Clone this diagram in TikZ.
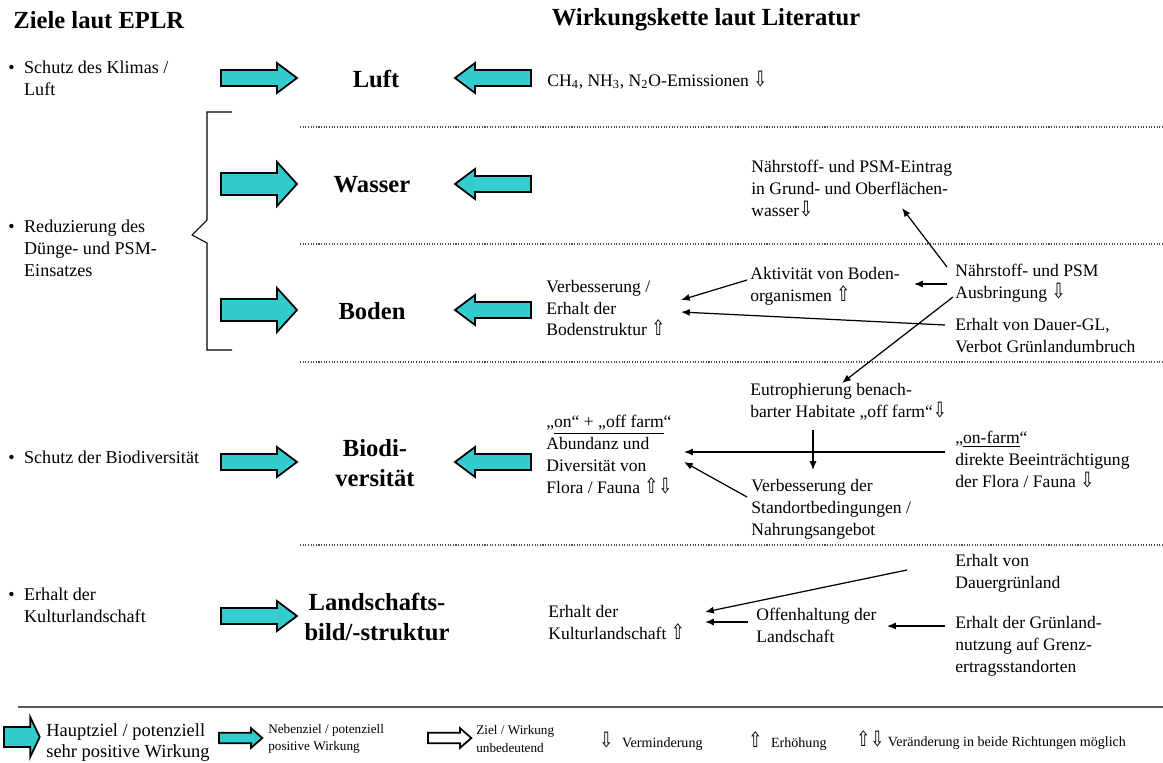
\documentclass[tikz,border=0pt]{standalone}
\usepackage{fontspec}
\setmainfont{Liberation Serif}
\newfontfamily\pfeilfont{DejaVu Sans}
\usepackage{xcolor,graphicx}
\definecolor{tuerkis}{HTML}{33CCCC}
\usetikzlibrary{arrows.meta}
\newcommand{\runter}{{\pfeilfont\scalebox{0.95}[1.2]{⇩}}}
\newcommand{\hoch}{{\pfeilfont\scalebox{0.95}[1.2]{⇧}}}

\begin{document}
\begin{tikzpicture}[
		x=0.02cm, y=-0.02cm,
		kopf/.style={font=\fontsize{14}{17}\selectfont\bfseries, inner sep=0pt},
		medium/.style={font=\fontsize{14}{17}\selectfont\bfseries, align=center, inner sep=0pt},
		ziel/.style={font=\fontsize{10.3}{12.5}\selectfont, align=left, anchor=west, inner sep=0pt},
		txt/.style={font=\fontsize{10}{12.5}\selectfont, align=left, anchor=west, inner sep=0pt},
		legende/.style={font=\fontsize{7.5}{10}\selectfont, align=left, anchor=west, inner sep=0pt},
		trenner/.style={dash pattern=on 0.6pt off 0.9pt, gray!60!black, line width=0.6pt},
		wirkung/.style={-{Latex[length=5pt,width=4pt]}, line width=0.7pt},
		pfeilrand/.style={draw=black, line width=1pt, line join=miter},
		pics/hauptpfeil/.style={code={
			\draw[pfeilrand, fill=#1] (0,-11) -- (56,-11) -- (56,-22) -- (76,0) -- (56,22) -- (56,11) -- (0,11) -- cycle;}},
		pics/hauptpfeil/.default=tuerkis,
		pics/nebenpfeil/.style={code={
			\draw[pfeilrand, fill=#1] (0,-8) -- (56,-8) -- (56,-15) -- (76,0) -- (56,15) -- (56,8) -- (0,8) -- cycle;}},
		pics/nebenpfeil/.default=tuerkis
	]
		\useasboundingbox (0,0) rectangle (1163,762);

		% Kopfzeile
		\node[kopf, anchor=west] (kopfziele) at (13,20) {Ziele laut EPLR};
		\node[kopf] (kopfkette) at (706,20) {Wirkungskette laut Literatur};

		% Ziele links
		\node[ziel] (zklima) at (8,78) {\makebox[9pt][l]{\textbullet}Schutz des Klimas /\\\hspace*{9pt}Luft};
		\node[ziel] (zduenge) at (8,248) {\makebox[9pt][l]{\textbullet}Reduzierung des\\\hspace*{9pt}Dünge- und PSM-\\\hspace*{9pt}Einsatzes};
		\node[ziel] (zbiodiv) at (8,457) {\makebox[9pt][l]{\textbullet}Schutz der Biodiversität};
		\node[ziel] (zkultur) at (8,605) {\makebox[9pt][l]{\textbullet}Erhalt der\\\hspace*{9pt}Kulturlandschaft};

		\draw[line width=0.6pt] (232,112) -- (207,112) -- (207,220) -- (192,235) -- (207,243) -- (207,350) -- (232,350);

		% Schutzgueter
		\node[medium] (luft) at (376,79) {Luft};
		\node[medium] (wasser) at (372,185) {Wasser};
		\node[medium] (boden) at (372,311) {Boden};
		\node[medium] (biodiv) at (375,463) {Biodi-\\versität};
		\node[medium] (landschaft) at (377,617) {Landschafts-\\bild/-struktur};

		\pic at (221,78) {nebenpfeil};
		\pic at (221,184) {hauptpfeil};
		\pic at (221,310) {hauptpfeil};
		\pic at (221,462) {nebenpfeil};
		\pic at (221,616) {nebenpfeil};
		\foreach \y in {78,184,310,462}
			\pic[xscale=-1] at (531,\y) {nebenpfeil};

		\foreach \y in {127,244,362,545}
			\draw[trenner] (300,\y) -- (1163,\y);

		% Wirkungskette
		\node[txt] (emiss) at (547,80) {CH\textsubscript{4}, NH\textsubscript{3}, N\textsubscript{2}O-Emissionen \runter};

		\node[txt] (eintrag) at (751,189) {Nährstoff- und PSM-Eintrag\\in Grund- und Oberflächen-\\wasser\runter};

		\node[txt] (verbboden) at (546,308) {Verbesserung /\\Erhalt der\\Bodenstruktur \hoch};
		\node[txt] (aktiv) at (750,286) {Aktivität von Boden-\\organismen \hoch};
		\node[txt] (ausbr) at (955,283) {Nährstoff- und PSM\\Ausbringung \runter};
		\node[txt] (dauergl) at (955,336) {Erhalt von Dauer-GL,\\Verbot Grünlandumbruch};

		\node[txt] (abundanz) at (546,455) {„\underline{on“ + „off farm}“\\Abundanz und\\Diversität von\\Flora / Fauna \hoch\runter};
		\node[txt] (eutroph) at (750,402) {Eutrophierung benach-\\barter Habitate „off farm“\runter};
		\node[txt] (onfarm) at (955,460) {„\underline{on-farm}“\\direkte Beeinträchtigung\\der Flora / Fauna \runter};
		\node[txt] (standort) at (751,509) {Verbesserung der\\Standortbedingungen /\\Nahrungsangebot};

		\node[txt] (dauergr) at (955,573) {Erhalt von\\Dauergrünland};
		\node[txt] (kultur) at (548,622) {Erhalt der\\Kulturlandschaft \hoch};
		\node[txt] (offen) at (756,625) {Offenhaltung der\\Landschaft};
		\node[txt] (grenz) at (955,646) {Erhalt der Grünland-\\nutzung auf Grenz-\\ertragsstandorten};

		\draw[wirkung] ([shift={(-8,-16)}]ausbr.west) -- ([shift={(151,19)}]eintrag.west);
		\draw[wirkung] ([shift={(-8,1)}]ausbr.west) -- ([shift={(164,-2)}]aktiv.west);
		\draw[wirkung] ([shift={(-2,14)}]ausbr.west) -- ([shift={(92,-19)}]eutroph.west);
		\draw[wirkung] ([shift={(-3,-6)}]aktiv.west) -- ([shift={(135,-8)}]verbboden.west);
		\draw[wirkung] ([shift={(-10,-11)}]dauergl.west) -- ([shift={(135,4)}]verbboden.west);
		\draw[wirkung] ([shift={(63,28)}]eutroph.west) -- ([shift={(62,-39)}]standort.west);
		\draw[wirkung] ([shift={(-10,-8)}]onfarm.west) -- ([shift={(138,-3)}]abundanz.west);
		\draw[wirkung] ([shift={(-4,-12)}]standort.west) -- ([shift={(138,7)}]abundanz.west);
		\draw[wirkung] ([shift={(-48,-3)}]dauergr.west) -- ([shift={(157,-10)}]kultur.west);
		\draw[wirkung] ([shift={(-8,-3)}]offen.west) -- ([shift={(157,0)}]kultur.west);
		\draw[wirkung] ([shift={(-10,-20)}]grenz.west) -- ([shift={(131,1)}]offen.west);

		% Legende
		\draw[gray!70!black, line width=1.2pt] (18,707) -- (1163,707);
		\pic[xscale=0.47, yscale=0.9] at (4,737) {hauptpfeil};
		\node[txt, font=\fontsize{10.5}{12}\selectfont] (leghaupt) at (46,743) {Hauptziel / potenziell\\sehr positive Wirkung};
		\pic[xscale=0.57, yscale=0.66] at (219,738) {nebenpfeil};
		\node[legende] (legneben) at (268,739) {Nebenziel / potenziell\\positive Wirkung};
		\pic[xscale=0.57, yscale=0.66] at (428,738) {nebenpfeil=white};
		\node[legende] (legziel) at (476,739) {Ziel / Wirkung\\unbedeutend};
		\node[legende, font=\fontsize{8}{10}\selectfont] (legrunter) at (599,741) {{\fontsize{10}{10}\selectfont\runter}\hspace{5pt}Verminderung};
		\node[legende, font=\fontsize{8}{10}\selectfont] (leghoch) at (748,741) {{\fontsize{10}{10}\selectfont\hoch}\hspace{5pt}Erhöhung};
		\node[legende, font=\fontsize{8}{10}\selectfont] (legbeide) at (856,740) {{\fontsize{10}{10}\selectfont\hoch\runter}\hspace{2pt}Veränderung in beide Richtungen möglich};
	\end{tikzpicture}
\end{document}
